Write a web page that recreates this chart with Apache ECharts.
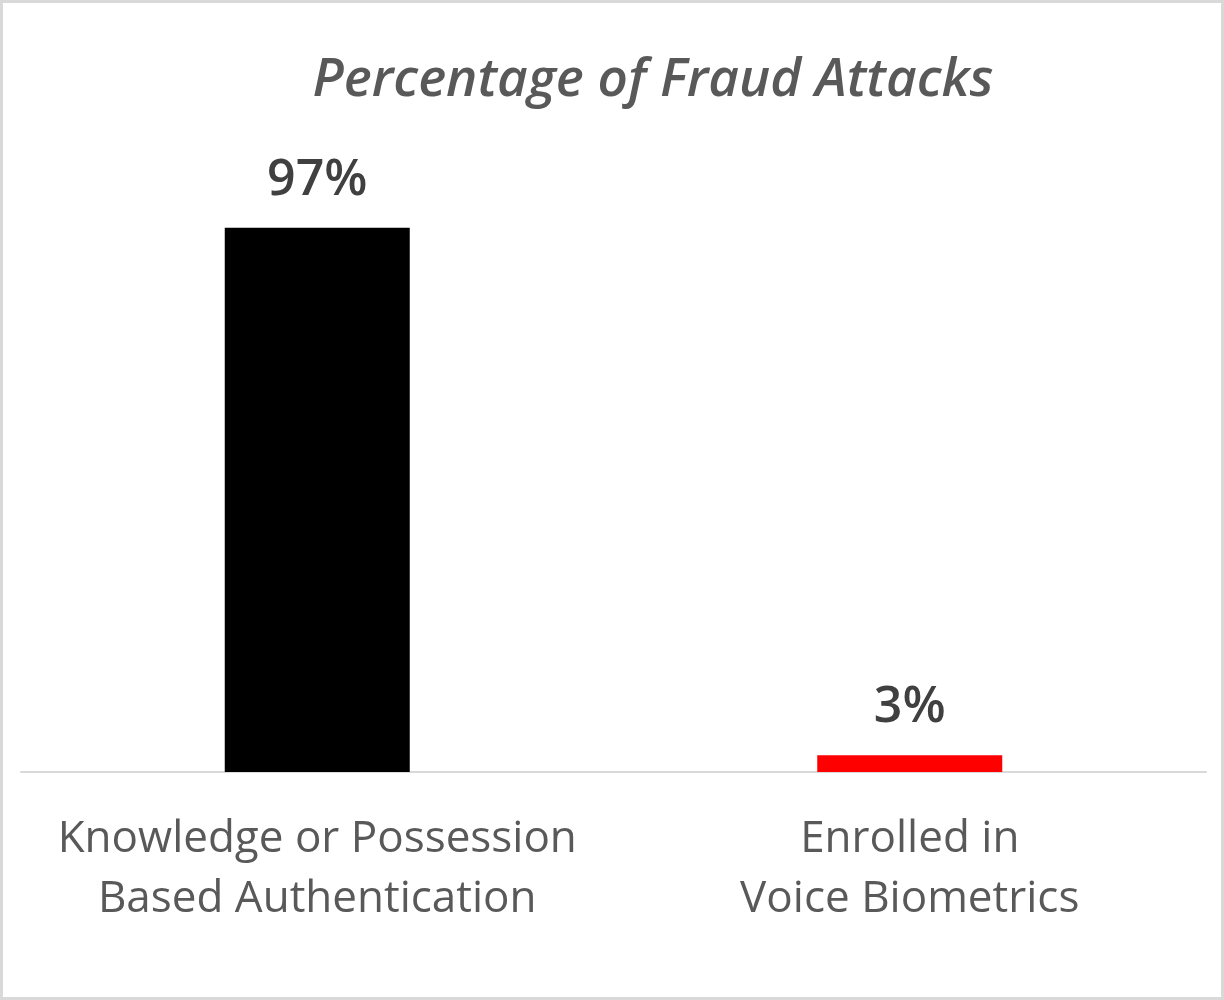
<!DOCTYPE html>
<html>
<head>
<meta charset="utf-8">
<script src="https://cdn.jsdelivr.net/npm/echarts@6/dist/echarts.min.js"></script>
<style>
  body { margin: 0; background: #fff; }
  #chart { width: 1224px; height: 1000px; }
</style>
</head>
<body>
<div id="chart"></div>
<script>
// data
var categories = ['Knowledge or Possession\nBased Authentication', 'Enrolled in\nVoice Biometrics'];
var values = [97, 3];
var barColors = ['#000000', '#ff0000'];

var myChart = echarts.init(document.getElementById('chart'));

var option = {
    backgroundColor: '#fff',
    animation: false,
    title: {
        text: 'Percentage of Fraud Attacks',
        left: 648,
        top: 49,
        textAlign: 'center',
        textStyle: {
            fontFamily: 'Open Sans',
            fontStyle: 'italic',
            fontWeight: 600,
            fontSize: 53,
            color: '#595959'
        }
    },
    graphic: [{
        type: 'rect',
        shape: { x: 1.5, y: 1.5, width: 1221, height: 997 },
        style: { fill: 'none', stroke: '#d9d9d9', lineWidth: 3 },
        silent: true
    }],
    grid: { left: 21, right: 18, top: 211, bottom: 228 },
    xAxis: {
        type: 'category',
        data: categories,
        axisTick: { show: false },
        axisLine: { lineStyle: { color: '#d9d9d9', width: 2 } },
        axisLabel: {
            interval: 0,
            margin: 37,
            fontFamily: 'Open Sans',
            fontSize: 44,
            lineHeight: 60,
            color: '#595959'
        }
    },
    yAxis: {
        type: 'value',
        min: 0,
        max: 100,
        show: false,
        splitLine: { show: false }
    },
    series: [{
        type: 'bar',
        barWidth: 185,
        data: values.map(function (v, i) {
            return { value: v, itemStyle: { color: barColors[i] } };
        }),
        label: {
            show: true,
            position: 'top',
            distance: 22,
            formatter: '{c}%',
            fontFamily: 'Open Sans',
            fontWeight: 600,
            fontSize: 50,
            color: '#404040'
        }
    }]
};

myChart.setOption(option);
</script>
</body>
</html>
